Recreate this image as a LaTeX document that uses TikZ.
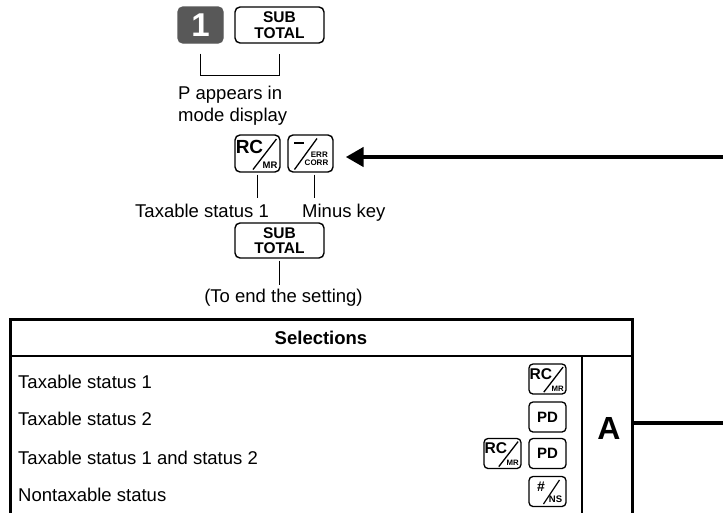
\documentclass[tikz,border=0pt]{standalone}
\usepackage{fontspec}
\setmainfont{Liberation Sans}
\usetikzlibrary{arrows.meta,calc}
\definecolor{keygray}{RGB}{88,88,88}
\newcommand\rcmrglyph[2]{%
  \begin{scope}[shift={(#1.center)},scale=#2,every node/.style={inner sep=0pt,transform shape}]
    \node[font=\bfseries\fontsize{19}{19}\selectfont] (#1-rc) at (-8,-6.5) {RC};
    \draw[line width=1.3pt] (-4.5,16) -- (19,-14.5);
    \node[font=\bfseries\fontsize{9.5}{9.5}\selectfont] (#1-mr) at (12.5,11.5) {MR};
  \end{scope}}
\newcommand\errglyph[1]{%
  \begin{scope}[shift={(#1.center)},every node/.style={inner sep=0pt}]
    \draw[line width=2pt] (-16.5,-10.5) -- (-7,-10.5);
    \draw[line width=1.3pt] (-16,16) -- (6.5,-15);
    \node[font=\bfseries\fontsize{8}{8}\selectfont, anchor=east] (#1-err) at (17.5,1.5) {ERR};
    \node[font=\bfseries\fontsize{8}{8}\selectfont, anchor=east] (#1-corr) at (18,9.5) {CORR};
  \end{scope}}
\newcommand\nsglyph[1]{%
  \begin{scope}[shift={(#1.center)},every node/.style={inner sep=0pt}]
    \node[font=\bfseries\fontsize{14}{14}\selectfont] (#1-hash) at (-6.5,-5) {\#};
    \draw[line width=1.2pt] (-4,12.5) -- (12,-11.5);
    \node[font=\bfseries\fontsize{9.5}{9.5}\selectfont] (#1-ns) at (8,8) {NS};
  \end{scope}}
\begin{document}
\begin{tikzpicture}[x=1pt,y=-1pt,
  keybox/.style={draw, line width=1.4pt, rounded corners=5pt, inner sep=0pt,
    minimum width=45pt, minimum height=37pt},
  smallkey/.style={draw, line width=1.3pt, rounded corners=4pt, inner sep=0pt,
    minimum width=37pt, minimum height=30pt},
  keytext/.style={font=\bfseries\fontsize{15.5}{15.5}\selectfont, align=center},
  lbl/.style={font=\fontsize{18.5}{22}\selectfont, inner sep=0pt},
  conn/.style={line width=1pt},
  tblouter/.style={line width=2.5pt},
  tblinner/.style={line width=2pt},
  thick line/.style={line width=4.5pt}]
\useasboundingbox (0,0) rectangle (723,512);

% top keys
\node[keybox, fill=keygray, draw=keygray, minimum height=36pt, text=white,
  font=\bfseries\fontsize{33}{33}\selectfont] (k1) at (200.5,25) {1};
\node[keybox, keytext, minimum width=89pt, minimum height=36pt] (st1) at (279.5,25) {SUB\\TOTAL};
\draw[conn] ([yshift=-10pt]k1.south) -- ++(0,22) -| ([yshift=-10pt]st1.south);
\node[lbl, anchor=north west, align=left] (pa) at (178,86) {P appears in\\mode display};

% RC/MR and minus keys
\node[keybox] (rc) at (257.5,153.5) {};
\rcmrglyph{rc}{1}
\node[keybox] (mk) at (310.5,153.5) {};
\errglyph{mk}

\node[lbl, anchor=base west] (t1) at (135,217) {Taxable status 1};
\node[lbl, anchor=base west] (t2) at (302,217) {Minus key};
\draw[conn] ([yshift=-2pt]rc.south) -- ($(rc.south |- t1.north)+(0,-5)$);
\draw[conn] ([xshift=4pt,yshift=-2pt]mk.south) -- ($([xshift=4pt]mk.south |- t2.north)+(0,-5)$);

% arrow
\coordinate (arrS) at (723,157);
\draw[thick line, -{Triangle[length=18pt,width=19pt]}, shorten >=12pt] (arrS) -- (arrS -| mk.east);

% second sub total
\node[keybox, keytext, minimum width=89pt, minimum height=35pt] (st2) at (279.5,240.5) {SUB\\TOTAL};
\node[lbl, anchor=base] (t3) at (283.5,302) {(To end the setting)};
\draw[conn] ([yshift=-2pt]st2.south) -- ($(st2.south |- t3.north)+(0,-3)$);

% table
\draw[tblouter] (10.5,513) -- (10.5,319.5) -- (632.5,319.5) -- (632.5,513);
\draw[tblinner] (10.5,356) -- (632.5,356);
\draw[tblinner] (582,356) -- (582,513);
\node[font=\bfseries\fontsize{18.5}{18.5}\selectfont, inner sep=0pt] (sel) at (321,337.5) {Selections};

\node[lbl, anchor=base west] (r1) at (18,388) {Taxable status 1};
\node[lbl, anchor=base west] (r2) at (18,425) {Taxable status 2};
\node[lbl, anchor=base west] (r3) at (18,464) {Taxable status 1 and status 2};
\node[lbl, anchor=base west] (r4) at (18,501) {Nontaxable status};

\node[smallkey] (s1) at (547.5,379) {};
\rcmrglyph{s1}{0.82}
\node[smallkey, font=\bfseries\fontsize{15}{15}\selectfont] (s2) at (547.5,417) {PD};
\node[smallkey] (s3) at (502.5,453.5) {};
\rcmrglyph{s3}{0.82}
\node[smallkey, font=\bfseries\fontsize{15}{15}\selectfont] (s4) at (547.5,453.5) {PD};
\node[smallkey] (s5) at (547.5,491.5) {};
\nsglyph{s5}

\node[font=\bfseries\fontsize{32}{32}\selectfont, inner sep=0pt] (A) at (609,428.5) {A};
\coordinate (aL) at (633.5,423);
\coordinate (aR) at (723,423);
\draw[thick line] (aL) -- (aR);
\end{tikzpicture}
\end{document}
